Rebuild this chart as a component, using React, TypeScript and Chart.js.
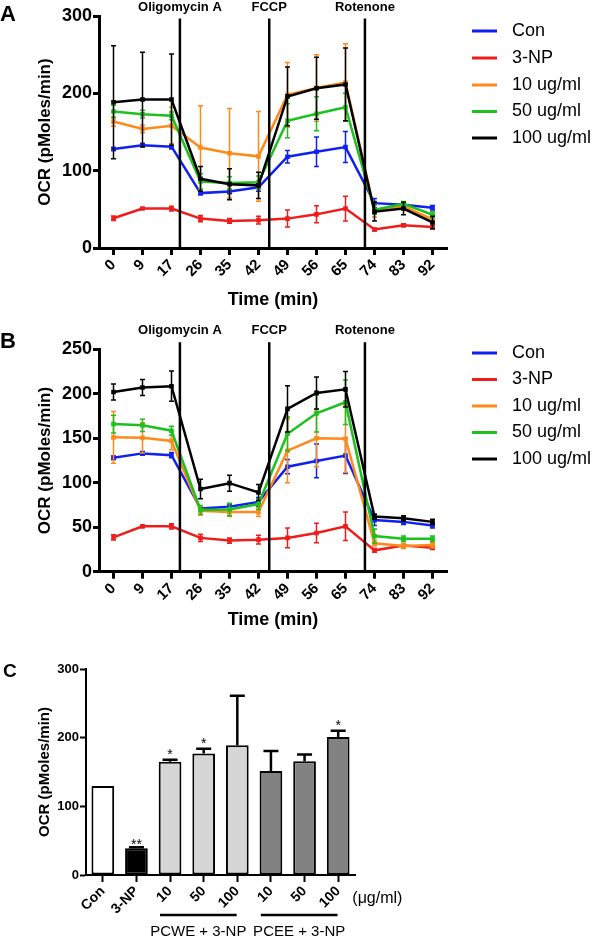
import React, { useEffect, useRef } from 'react';
import { Chart, registerables } from 'chart.js';

Chart.register(...registerables);

const FONT = "'Liberation Sans', Arial, Helvetica, sans-serif";
Chart.defaults.font.family = FONT;
Chart.defaults.color = '#000';

// ---------------- data ----------------
const timeLabels = ['0', '9', '17', '26', '35', '42', '49', '56', '65', '74', '83', '92'];
const seriesNames = ['Con', '3-NP', '10 ug/ml', '50 ug/ml', '100 ug/ml'];
const seriesColors = ['#1020f0', '#f01c1c', '#ff8a1a', '#1ec01e', '#000000'];

const conMean = [128, 133, 131, 71, 73, 78.5, 118, 124.5, 130.5, 58, 56, 52];
const conErr = [2, 2, 3, 2, 3, 5, 8, 19, 20, 6, 3, 3];
const npMean = [38.5, 51, 51, 38, 35, 36, 38, 43.5, 51, 24, 29.5, 27];
const npErr = [3, 1, 3, 4, 3, 5, 11, 11, 16, 2, 2, 2];

// Panel A (PCWE)
const a10Mean = [163.5, 154, 158, 130, 122.5, 118.5, 198, 207, 214, 48, 54, 37];
const a10Err = [6, 5, 24, 54, 58, 58, 42, 43, 50, 8, 5, 5];
const a50Mean = [176.5, 173, 171, 86, 84, 85, 164.5, 173.5, 182, 49.5, 57, 43];
const a50Err = [8, 5, 5, 10, 8, 8, 22, 22, 18, 6, 3, 4];
const a100Mean = [188.5, 192, 192, 89.5, 82.5, 81, 196, 206.5, 211.5, 47, 51, 33];
const a100Err = [73, 61, 59, 16, 20, 17, 38, 40, 47, 12, 8, 8];

// Panel B (PCEE)
const b10Mean = [151, 150.5, 147, 68.5, 67, 67, 136, 150, 149.5, 32, 29, 30];
const b10Err = [29, 17, 10, 5, 5, 5, 36, 32, 38, 3, 3, 3];
const b50Mean = [166, 164.5, 158.5, 69.5, 70, 76, 155, 178, 190.5, 40, 37, 37];
const b50Err = [10, 7, 5, 5, 7, 6, 19, 21, 25, 8, 3, 3];
const b100Mean = [202, 207, 208.5, 93, 99.5, 89, 183, 201, 205, 62, 60, 56];
const b100Err = [9, 9, 17, 11, 9, 9, 26, 18, 20, 3, 3, 3];

const injectionNames = ['Oligomycin A', 'FCCP', 'Rotenone'];
const injectionAt = [2.29, 5.37, 8.67]; // position in category units

// Panel C
const barLabels = ['Con', '3-NP', '10', '50', '100', '10', '50', '100'];
const barValues = [129.5, 39, 165, 177, 189, 151.5, 165.5, 201];
const barErrors = [0.5, 1.5, 3, 7, 72, 29, 10, 9];
const barFills = ['#ffffff', '#000000', '#d6d6d6', '#d6d6d6', '#d6d6d6', '#828282', '#828282', '#828282'];
const barMarks = ['', '**', '*', '*', '', '', '', '*'];
const groupNames = ['PCWE + 3-NP', 'PCEE + 3-NP'];
const groupFrom = [2, 5];
const groupTo = [4, 7];
const doseUnit = '(\u03bcg/ml)';

// ---------------- plugins ----------------
const lineErrorBars = {
  id: 'lineErrorBars',
  afterDatasetDraw(chart: any, args: any) {
    const ds = chart.data.datasets[args.index];
    const errs = ds.errors;
    if (!errs) return;
    const ctx = chart.ctx;
    const ys = chart.scales.y;
    ctx.save();
    ctx.strokeStyle = ds.borderColor;
    ctx.lineWidth = 1.5;
    args.meta.data.forEach((el: any, i: number) => {
      const v = ds.data[i];
      const e = errs[i];
      const yt = ys.getPixelForValue(v + e);
      const yb = ys.getPixelForValue(v - e);
      ctx.beginPath();
      ctx.moveTo(el.x, yt);
      ctx.lineTo(el.x, yb);
      ctx.moveTo(el.x - 2.5, yt);
      ctx.lineTo(el.x + 2.5, yt);
      ctx.moveTo(el.x - 2.5, yb);
      ctx.lineTo(el.x + 2.5, yb);
      ctx.stroke();
    });
    ctx.restore();
  },
};

function makeLinePanel(opts: {
  means: number[][];
  errs: number[][];
  yMax: number;
  yStep: number;
  top: number;
  xHeight: number;
  markerLabelY: number;
  legendY: number[];
  xTitlePad: number;
  letter: string;
  letterY: number;
}) {
  const datasets = seriesNames.map((name, i) => ({
    label: name,
    data: opts.means[i],
    errors: opts.errs[i],
    borderColor: seriesColors[i],
    backgroundColor: seriesColors[i],
    borderWidth: 2.5,
    pointRadius: 1.5,
    pointStyle: 'rect',
    tension: 0,
    fill: false,
    order: seriesNames.length - 1 - i,
  }));

  const overlay = {
    id: 'overlay',
    afterDatasetsDraw(chart: any) {
      const ctx = chart.ctx;
      const xs = chart.scales.x;
      const area = chart.chartArea;
      ctx.save();
      ctx.strokeStyle = '#000';
      ctx.lineWidth = 2.5;
      ctx.fillStyle = '#000';
      ctx.font = `bold 13px ${FONT}`;
      ctx.textAlign = 'center';
      ctx.textBaseline = 'middle';
      injectionAt.forEach((pos, i) => {
        const px = xs.getPixelForValue(pos);
        ctx.beginPath();
        ctx.moveTo(px, opts.markerLabelY + 11.5);
        ctx.lineTo(px, area.bottom);
        ctx.stroke();
        ctx.fillText(injectionNames[i], px, opts.markerLabelY);
      });
      ctx.restore();
    },
    afterDraw(chart: any) {
      const ctx = chart.ctx;
      const area = chart.chartArea;
      ctx.save();
      // legend
      const lx = area.right + 25;
      ctx.font = `18px ${FONT}`;
      ctx.textAlign = 'left';
      ctx.textBaseline = 'middle';
      seriesNames.forEach((name, i) => {
        const y = opts.legendY[i];
        ctx.strokeStyle = seriesColors[i];
        ctx.lineWidth = 3;
        ctx.beginPath();
        ctx.moveTo(lx, y);
        ctx.lineTo(lx + 25, y);
        ctx.stroke();
        ctx.fillStyle = '#000';
        ctx.fillText(name, lx + 40, y);
      });
      // panel letter
      ctx.font = `bold 22px ${FONT}`;
      ctx.fillText(opts.letter, 0, opts.letterY);
      ctx.restore();
    },
  };

  return {
    type: 'line',
    data: { labels: timeLabels, datasets },
    options: {
      responsive: false,
      animation: false,
      events: [],
      layout: { padding: { top: opts.top, right: 600 - 447, left: 0, bottom: 0 } },
      plugins: { legend: { display: false }, tooltip: { enabled: false } },
      scales: {
        x: {
          type: 'category',
          offset: true,
          ticks: {
            autoSkip: false,
            maxRotation: 45,
            minRotation: 45,
            padding: 1,
            color: '#000',
            font: { size: 15, weight: 'bold' },
          },
          grid: { drawOnChartArea: false, offset: false, tickLength: 7, tickColor: '#000', tickWidth: 3 },
          border: { display: true, color: '#000', width: 3 },
          title: {
            display: true,
            text: 'Time (min)',
            color: '#000',
            font: { size: 18, weight: 'bold' },
            padding: { top: 0, bottom: opts.xTitlePad },
          },
          afterFit: (s: any) => {
            s.height = opts.xHeight;
          },
        },
        y: {
          min: 0,
          max: opts.yMax,
          ticks: { stepSize: opts.yStep, padding: 1, color: '#000', font: { size: 18, weight: 'bold' } },
          grid: { drawOnChartArea: false, tickLength: 6, tickColor: '#000', tickWidth: 3 },
          border: { display: true, color: '#000', width: 3 },
          title: {
            display: true,
            text: 'OCR (pMoles/min)',
            color: '#000',
            font: { size: 17, weight: 'bold' },
            padding: { top: 34.8, bottom: 0 },
          },
          afterFit: (s: any) => {
            s.width = 99;
          },
        },
      },
    },
    plugins: [lineErrorBars, overlay],
  };
}

function makeBarPanel() {
  const overlay = {
    id: 'barOverlay',
    afterDatasetsDraw(chart: any) {
      const ctx = chart.ctx;
      const ys = chart.scales.y;
      const meta = chart.getDatasetMeta(0);
      ctx.save();
      ctx.strokeStyle = '#000';
      ctx.fillStyle = '#000';
      ctx.lineWidth = 2.5;
      meta.data.forEach((el: any, i: number) => {
        const top = ys.getPixelForValue(barValues[i] + barErrors[i]);
        if (el.y - top > 1) {
          ctx.beginPath();
          ctx.moveTo(el.x, el.y);
          ctx.lineTo(el.x, top);
          ctx.moveTo(el.x - 7.5, top);
          ctx.lineTo(el.x + 7.5, top);
          ctx.stroke();
        }
        if (barMarks[i]) {
          ctx.font = `14px ${FONT}`;
          ctx.textAlign = 'center';
          ctx.textBaseline = 'alphabetic';
          ctx.fillText(barMarks[i], el.x, top + (barMarks[i].length > 1 ? 2 : -1));
        }
      });
      ctx.restore();
    },
    afterDraw(chart: any) {
      const ctx = chart.ctx;
      const xs = chart.scales.x;
      const area = chart.chartArea;
      const w = xs.getPixelForValue(1) - xs.getPixelForValue(0);
      ctx.save();
      ctx.fillStyle = '#000';
      ctx.strokeStyle = '#000';
      ctx.font = `16px ${FONT}`;
      ctx.textAlign = 'left';
      ctx.textBaseline = 'middle';
      ctx.fillText(doseUnit, xs.getPixelForValue(barLabels.length - 1) + 0.42 * w, area.bottom + 24);
      groupNames.forEach((g, i) => {
        const x0 = xs.getPixelForValue(groupFrom[i]) - 0.3 * w;
        const x1 = xs.getPixelForValue(groupTo[i]) - 0.02 * w;
        ctx.lineWidth = 2.5;
        ctx.beginPath();
        ctx.moveTo(x0, area.bottom + 40);
        ctx.lineTo(x1, area.bottom + 40);
        ctx.stroke();
        ctx.font = `15px ${FONT}`;
        ctx.textAlign = 'center';
        ctx.fillText(g, (x0 + x1) / 2, area.bottom + 57);
      });
      ctx.font = `bold 19px ${FONT}`;
      ctx.textAlign = 'left';
      ctx.fillText('C', 3, 31.5);
      ctx.restore();
    },
  };

  return {
    type: 'bar',
    data: {
      labels: barLabels,
      datasets: [
        {
          data: barValues,
          backgroundColor: barFills,
          borderColor: '#000',
          borderWidth: 2,
          borderSkipped: false,
          barPercentage: 0.675,
          categoryPercentage: 1,
        },
      ],
    },
    options: {
      responsive: false,
      animation: false,
      events: [],
      layout: { padding: { top: 29, right: 600 - 355, left: 0, bottom: 0 } },
      plugins: { legend: { display: false }, tooltip: { enabled: false } },
      scales: {
        x: {
          offset: true,
          ticks: {
            autoSkip: false,
            maxRotation: 45,
            minRotation: 45,
            padding: 1,
            color: '#000',
            font: { size: 14, weight: 'bold' },
          },
          grid: { drawOnChartArea: false, offset: false, tickLength: 7, tickColor: '#000', tickWidth: 2 },
          border: { display: true, color: '#000', width: 2 },
          afterFit: (s: any) => {
            s.height = 63;
          },
        },
        y: {
          min: 0,
          max: 300,
          ticks: { stepSize: 100, padding: 1, color: '#000', font: { size: 13, weight: 'bold' } },
          grid: { drawOnChartArea: false, tickLength: 6, tickColor: '#000', tickWidth: 2 },
          border: { display: true, color: '#000', width: 2 },
          title: {
            display: true,
            text: 'OCR (pMoles/min)',
            color: '#000',
            font: { size: 15, weight: 'bold' },
            padding: { top: 36, bottom: 0 },
          },
          afterFit: (s: any) => {
            s.width = 86;
          },
        },
      },
    },
    plugins: [overlay],
  };
}

function ChartCanvas({ make, top, height }: { make: () => any; top: number; height: number }) {
  const ref = useRef<HTMLCanvasElement | null>(null);
  useEffect(() => {
    if (!ref.current) return;
    const chart = new Chart(ref.current, make());
    return () => chart.destroy();
  }, []);
  return (
    <canvas
      ref={ref}
      width={600}
      height={height}
      style={{ position: 'absolute', left: 0, top, width: 600, height, display: 'block' }}
    />
  );
}

export default function App() {
  return (
    <div style={{ position: 'absolute', left: 0, top: 0, width: 600, height: 938, background: '#fff', overflow: 'hidden' }}>
      <ChartCanvas
        top={0}
        height={322}
        make={() =>
          makeLinePanel({
            means: [conMean, npMean, a10Mean, a50Mean, a100Mean],
            errs: [conErr, npErr, a10Err, a50Err, a100Err],
            yMax: 300,
            yStep: 100,
            top: 16,
            xHeight: 322 - 248,
            markerLabelY: 7,
            legendY: [31, 58, 85, 111.5, 138],
            xTitlePad: 11.2,
            letter: 'A',
            letterY: 15,
          })
        }
      />
      <ChartCanvas
        top={322}
        height={318}
        make={() =>
          makeLinePanel({
            means: [conMean, npMean, b10Mean, b50Mean, b100Mean],
            errs: [conErr, npErr, b10Err, b50Err, b100Err],
            yMax: 250,
            yStep: 50,
            top: 27.3,
            xHeight: 640 - 571.7,
            markerLabelY: 8.7,
            legendY: [31, 57.5, 84, 110.5, 137],
            xTitlePad: 9.2,
            letter: 'B',
            letterY: 19.5,
          })
        }
      />
      <ChartCanvas top={640} height={298} make={makeBarPanel} />
    </div>
  );
}
